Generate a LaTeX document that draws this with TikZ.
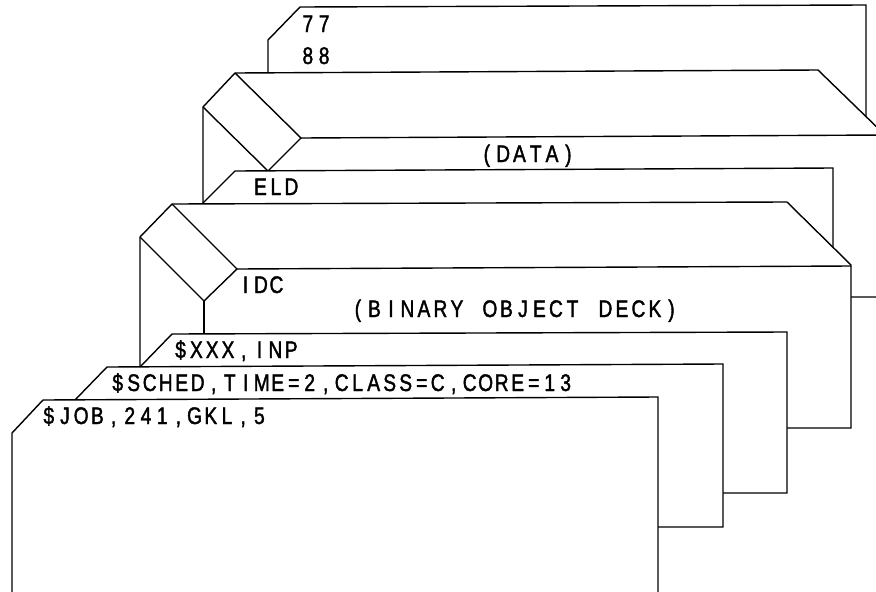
\documentclass[tikz,border=0pt]{standalone}
\usepackage{fontspec}
\newfontfamily\plotfont[FakeStretch=0.8,FakeBold=1.6]{Liberation Sans}
\newlength\plotpitch
\setlength\plotpitch{16.3pt}
\ExplSyntaxOn
\NewDocumentCommand\plottext{O{16.3pt}m}{\setlength\plotpitch{#1}\tl_map_inline:nn {#2} {\makebox[\plotpitch][c]{##1}}}
\ExplSyntaxOff
\begin{document}
\begin{tikzpicture}[x=1pt,y=-1pt,line width=1.4pt,
  card/.style={draw=black,fill=white},
  edge/.style={draw=black},
  lbl/.style={anchor=base west,inner sep=0pt,font=\plotfont\fontsize{24pt}{26pt}\selectfont}]
\useasboundingbox (0,0) rectangle (876,592);
\fill[white] (0,0) rectangle (876,592);
\clip (0,0) rectangle (876,592);
% card 77/88
\path[card] (268,40) -- (300,7) -- (866,5) -- (866,140) -- (268,140) -- cycle;
% data block
\path[card] (203,107) -- (235,73) -- (818,70) -- (885,135) -- (885,297) -- (203,297) -- cycle;
\path[edge] (235,73) -- (301,138) -- (268,171) -- (203,107);
\path[edge] (301,138) -- (885,135);
% ELD card
\path[card] (203,203) -- (235,171) -- (833,168) -- (833,320) -- (203,320) -- cycle;
% binary block
\path[card] (140,237) -- (172,204) -- (787,202) -- (851,265) -- (851,428) -- (140,428) -- cycle;
\path[edge] (172,204) -- (237,269) -- (204,301) -- (140,237);
\path[edge] (237,269) -- (851,266);
\path[edge] (204,301) -- (204,440);
% XXX card
\path[card] (140,367) -- (172,334) -- (787,332) -- (787,493) -- (140,493) -- cycle;
% SCHED card
\path[card] (75,400) -- (107,367) -- (723,364) -- (723,527) -- (75,527) -- cycle;
% JOB card
\path[card] (12,433) -- (43,400) -- (658,397) -- (658,610) -- (12,610) -- cycle;
% labels
\node[lbl] (t77) at (299,32) {\plottext{77}};
\node[lbl] (t88) at (299,64) {\plottext{88}};
\node[lbl] (tdata) at (478,162) {\plottext{(DATA)}};
\node[lbl] (teld) at (252,195) {\plottext[15.5pt]{ELD}};
\node[lbl] (tidc) at (237,293) {\plottext[15.5pt]{IDC}};
\node[lbl] (tbin) at (349,317) {\plottext[16.5pt]{(BINARY~OBJECT~DECK)}};
\node[lbl] (txxx) at (172,358) {\plottext[15.8pt]{\$XXX,INP}};
\node[lbl] (tsched) at (109,391) {\plottext[16pt]{\$SCHED,TIME=2,CLASS=C,CORE=13}};
\node[lbl] (tjob) at (40,424) {\plottext[16.2pt]{\$JOB,241,GKL,5}};
\end{tikzpicture}
\end{document}
